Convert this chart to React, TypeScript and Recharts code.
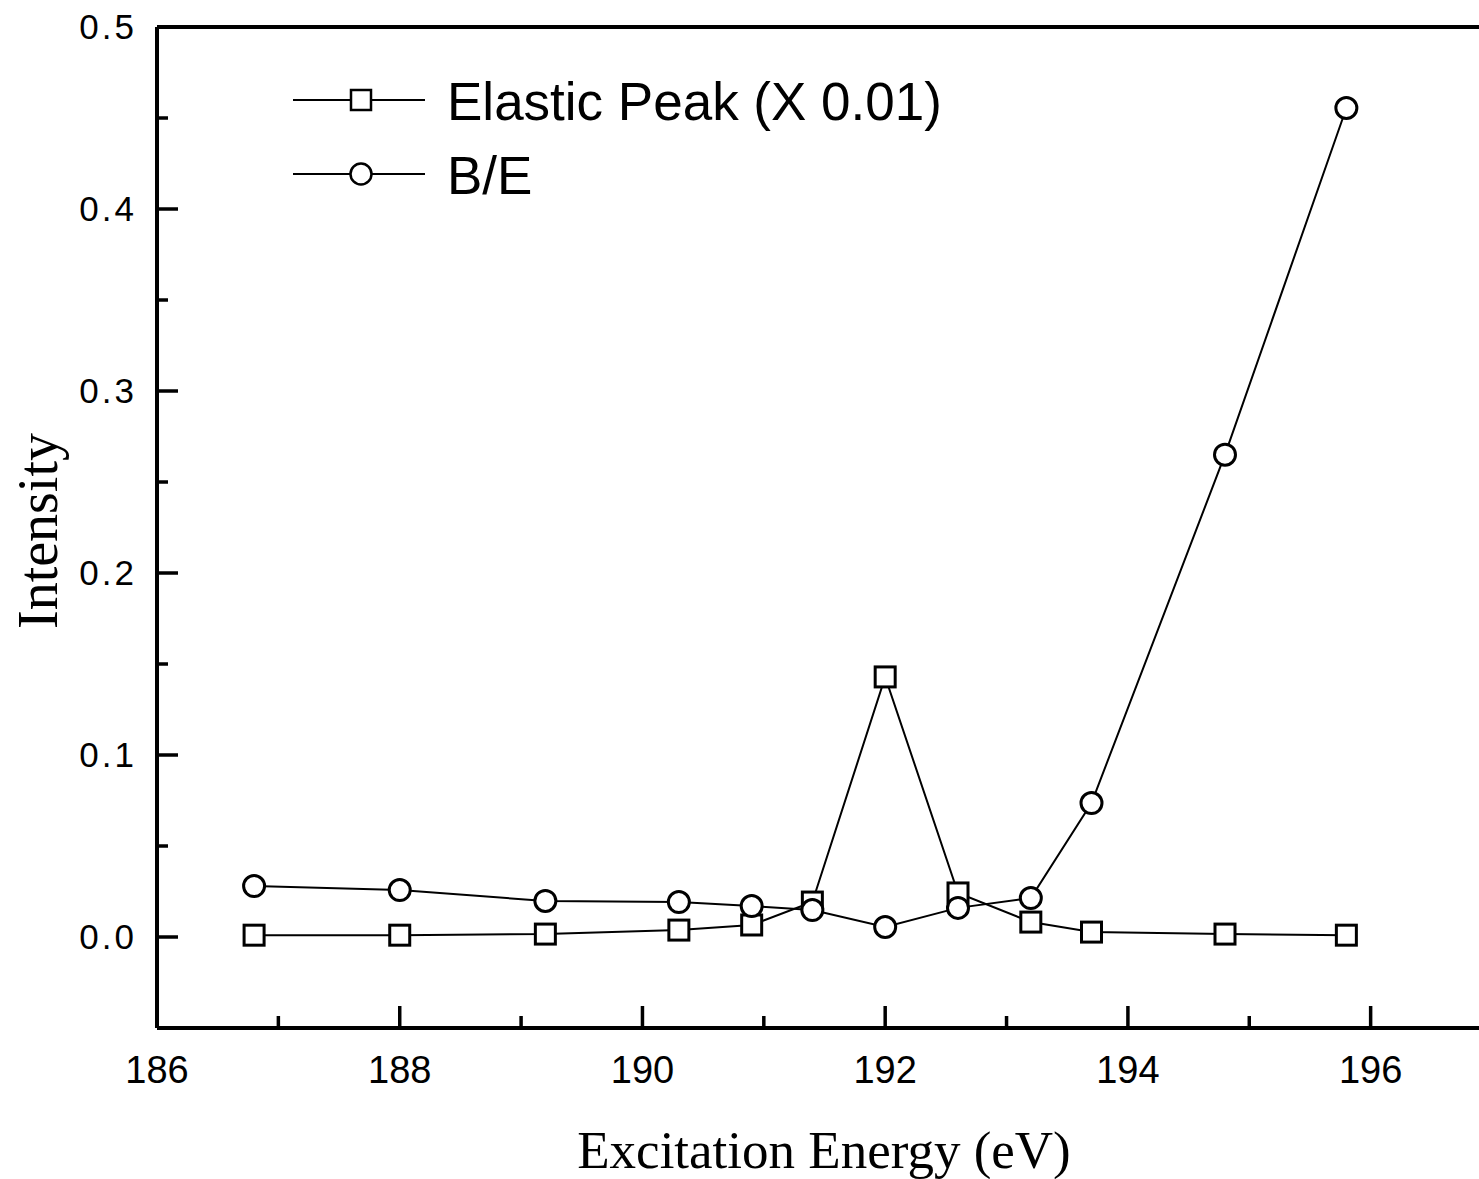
import { LineChart, Line, XAxis, YAxis, ReferenceLine, Legend } from "recharts";

const energy = [186.8, 188.0, 189.2, 190.3, 190.9, 191.4, 192.0, 192.6, 193.2, 193.7, 194.8, 195.8];
const elastic = [0.001, 0.001, 0.0016, 0.0038, 0.0066, 0.0192, 0.1429, 0.0242, 0.0082, 0.0027, 0.0016, 0.001];
const ratio = [0.028, 0.0258, 0.0198, 0.0192, 0.017, 0.0148, 0.0055, 0.016, 0.0214, 0.0736, 0.265, 0.4555];

const xTicks = [186, 187, 188, 189, 190, 191, 192, 193, 194, 195, 196, 197];
const yTicks = [-0.05, 0, 0.05, 0.1, 0.15, 0.2, 0.25, 0.3, 0.35, 0.4, 0.45, 0.5];
const legendOrder = ["elastic", "ratio"];

const data = energy.map((x, i) => ({ x, elastic: elastic[i], ratio: ratio[i] }));

const SANS = "'Liberation Sans', Arial, sans-serif";
const SERIF = "'Liberation Serif', 'Times New Roman', serif";

const XTick = (props: any) => {
  const { x, y, payload } = props;
  const major = payload.value % 2 === 0;
  return (
    <g>
      <line x1={x} y1={y} x2={x} y2={y - (major ? 22 : 12)} stroke="#000" strokeWidth={3.5} />
      {major && (
        <text x={x} y={y + 55} textAnchor="middle" fontFamily={SANS} fontSize={38} fill="#000">
          {payload.value}
        </text>
      )}
    </g>
  );
};

const YTick = (props: any) => {
  const { x, y, payload } = props;
  const major = Math.round(payload.value * 100) % 10 === 0;
  return (
    <g>
      <line x1={x} y1={y} x2={x + (major ? 21 : 11)} y2={y} stroke="#000" strokeWidth={3.5} />
      {major && payload.value >= 0 && (
        <text x={x - 20} y={y + 12} textAnchor="end" fontFamily={SANS} fontSize={35} letterSpacing={3} fill="#000">
          {payload.value.toFixed(1)}
        </text>
      )}
    </g>
  );
};

const SquareDot = (props: any) => {
  const { cx, cy, index } = props;
  return <rect key={`s${index}`} x={cx - 10} y={cy - 10} width={20} height={20} fill="#fff" stroke="#000" strokeWidth={3} />;
};

const CircleDot = (props: any) => {
  const { cx, cy, index } = props;
  return <circle key={`c${index}`} cx={cx} cy={cy} r={10.5} fill="#fff" stroke="#000" strokeWidth={3} />;
};

const renderLegend = (props: any) => {
  const items = [...(props.payload || [])].sort(
    (a: any, b: any) => legendOrder.indexOf(a.dataKey) - legendOrder.indexOf(b.dataKey)
  );
  return (
    <svg width={700} height={150}>
      {items.map((item: any, i: number) => {
        const cy = 40 + i * 74;
        const square = item.dataKey === "elastic";
        return (
          <g key={item.value}>
            <line x1={8} y1={cy} x2={140} y2={cy} stroke="#000" strokeWidth={2} />
            {square ? (
              <rect x={66} y={cy - 10} width={20} height={20} fill="#fff" stroke="#000" strokeWidth={2.5} />
            ) : (
              <circle cx={76} cy={cy} r={10.5} fill="#fff" stroke="#000" strokeWidth={2.5} />
            )}
            <text x={162} y={cy + 20} fontFamily={SANS} fontSize={53} fill="#000">
              {item.value}
            </text>
          </g>
        );
      })}
    </svg>
  );
};

export default function App() {
  return (
    <div style={{ position: "absolute", left: 0, top: 0, width: 1479, height: 1179, overflow: "hidden", background: "#fff" }}>
      <LineChart width={1530} height={1179} data={data} margin={{ top: 27, right: 38, bottom: 0, left: 0 }}>
        <XAxis
          dataKey="x"
          type="number"
          domain={[186, 197]}
          ticks={xTicks}
          interval={0}
          tickSize={0}
          tickMargin={0}
          tickLine={false}
          tick={<XTick />}
          height={151}
          axisLine={{ stroke: "#000", strokeWidth: 4 }}
          label={{
            content: () => (
              <text x={824} y={1168} textAnchor="middle" fontFamily={SERIF} fontSize={53} fill="#000">
                Excitation Energy (eV)
              </text>
            ),
          }}
        />
        <YAxis
          type="number"
          domain={[-0.05, 0.5]}
          ticks={yTicks}
          interval={0}
          tickSize={0}
          tickMargin={0}
          tickLine={false}
          tick={<YTick />}
          width={157}
          axisLine={{ stroke: "#000", strokeWidth: 4 }}
          label={{
            content: () => (
              <text
                x={38}
                y={531}
                transform="rotate(-90 38 531)"
                textAnchor="middle"
                dominantBaseline="central"
                fontFamily={SERIF}
                fontSize={56}
                fill="#000"
              >
                Intensity
              </text>
            ),
          }}
        />
        <ReferenceLine y={0.5} stroke="#000" strokeWidth={4} />
        <Legend
          layout="vertical"
          align="center"
          verticalAlign="middle"
          wrapperStyle={{ left: 285, top: 60, width: 700, height: 150 }}
          content={renderLegend}
        />
        <Line
          dataKey="elastic"
          name="Elastic Peak (X 0.01)"
          type="linear"
          stroke="#000"
          strokeWidth={2}
          dot={SquareDot}
          activeDot={false}
          isAnimationActive={false}
        />
        <Line
          dataKey="ratio"
          name="B/E"
          type="linear"
          stroke="#000"
          strokeWidth={2}
          dot={CircleDot}
          activeDot={false}
          isAnimationActive={false}
        />
      </LineChart>
    </div>
  );
}
